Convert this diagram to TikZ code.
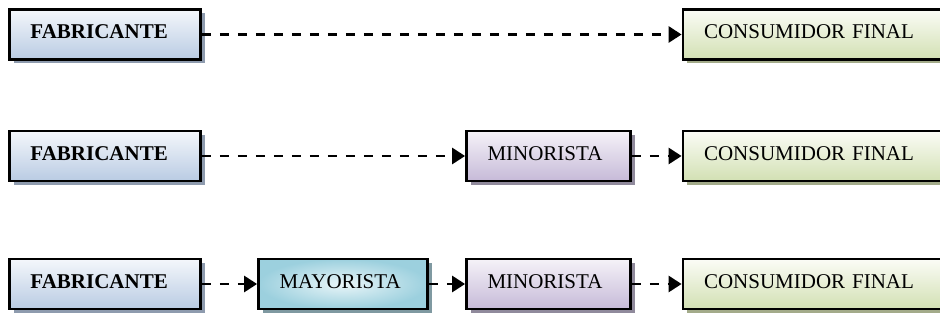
\documentclass[tikz,border=0pt]{standalone}
\usepackage{fontspec}
\setmainfont{Liberation Serif}
\usetikzlibrary{arrows.meta,shadows}

\definecolor{fabtop}{HTML}{F4F7FB}
\definecolor{fabbot}{HTML}{B9CBE3}
\definecolor{fabsh}{HTML}{8E9BAE}
\definecolor{mayin}{HTML}{E9F5F8}
\definecolor{mayout}{HTML}{9CD0DE}
\definecolor{maysh}{HTML}{7F99A1}
\definecolor{mintop}{HTML}{F5F2F8}
\definecolor{minbot}{HTML}{C6BAD8}
\definecolor{minsh}{HTML}{908A9C}
\definecolor{contop}{HTML}{FBFCF6}
\definecolor{conbot}{HTML}{D2E0B3}
\definecolor{consh}{HTML}{A3AB8A}

\tikzstyle{caja} = [draw=black, line width=2.8pt, minimum height=50pt, inner xsep=21pt, inner ysep=0pt, align=left, text height=14pt, text depth=5pt, font=\fontsize{21}{25}\selectfont]
\tikzstyle{fab} = [caja, text width=149pt, top color=fabtop, bottom color=fabbot, drop shadow={shadow xshift=4pt, shadow yshift=-4pt, fill=fabsh, opacity=1}]
\tikzstyle{may} = [caja, text width=127pt, inner color=mayin, outer color=mayout, drop shadow={shadow xshift=4pt, shadow yshift=-4pt, fill=maysh, opacity=1}]
\tikzstyle{mino} = [caja, text width=122pt, top color=mintop, bottom color=minbot, drop shadow={shadow xshift=4pt, shadow yshift=-4pt, fill=minsh, opacity=1}]
\tikzstyle{cons} = [caja, text width=223pt, top color=contop, bottom color=conbot, drop shadow={shadow xshift=4pt, shadow yshift=-4pt, fill=consh, opacity=1}]
\tikzstyle{flecha} = [line width=2.8pt, dash pattern=on 9pt off 9pt, -{Triangle[length=13pt,width=16pt]}]

\begin{document}
\begin{tikzpicture}[x=1pt,y=-1pt]
\useasboundingbox (0,0) rectangle (940,320);

\node[fab] (fab1) at (105,34.5) {\textbf{FABRICANTE}};
\node[cons] (con1) at (815.5,34.5) {CONSUMIDOR FINAL};

\node[fab] (fab2) at (105,156) {\textbf{FABRICANTE}};
\node[mino] (min2) at (548.5,156) {MINORISTA};
\node[cons] (con2) at (815.5,156) {CONSUMIDOR FINAL};

\node[fab] (fab3) at (105,284) {\textbf{FABRICANTE}};
\node[may] (may3) at (343,284) {MAYORISTA};
\node[mino] (min3) at (548.5,284) {MINORISTA};
\node[cons] (con3) at (815.5,284) {CONSUMIDOR FINAL};

\draw[flecha] (fab1) -- (con1);
\draw[flecha] (fab2) -- (min2);
\draw[flecha] (min2) -- (con2);
\draw[flecha] (fab3) -- (may3);
\draw[flecha] (may3) -- (min3);
\draw[flecha] (min3) -- (con3);
\end{tikzpicture}
\end{document}
